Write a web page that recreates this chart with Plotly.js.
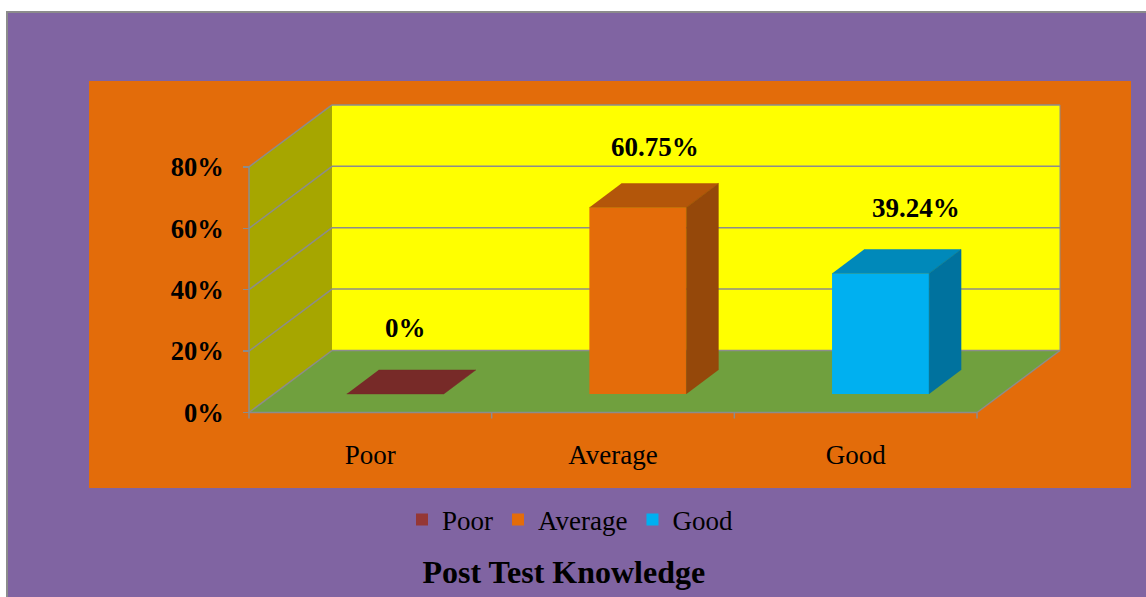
<!DOCTYPE html>
<html>
<head>
<meta charset="utf-8">
<script src="https://cdn.plot.ly/plotly-3.0.1.min.js"></script>
<style>
  html, body { margin: 0; padding: 0; background: #ffffff; }
  #frame { position: absolute; left: 6px; top: 11px; width: 1140px; height: 586px;
           box-sizing: border-box; background: #8064A2;
           border-left: 2px solid #8c8c8c; border-top: 2px solid #8c8c8c; }
  #chart { position: absolute; left: 0; top: 0; width: 1146px; height: 597px; }
</style>
</head>
<body>
<div id="frame"></div>
<div id="chart"></div>
<script>
// ---- data ----
const categories = ['Poor', 'Average', 'Good'];
const values = [0, 60.75, 39.24];
const yTickValues = [0, 20, 40, 60, 80];
const chartTitle = 'Post Test Knowledge';

// ---- styles ----
const frontColors = ['#953735', '#E46C0A', '#00B0F0'];
const topColors = ['#772A28', '#B3560A', '#0089BA'];
const sideColors = ['#5E201E', '#95480A', '#00729E'];
const labelXShift = [-6, 0, 19];
const labelYShift = [54, 49, 54];

const SERIF = '"Liberation Serif", "Times New Roman", serif';
const GRID = '#8C8C8C';

// 3D projection (in data units of the axes)
const DX = 0.342, DY = 20.2;      // full depth offset
const HALF = 0.2;                  // half bar width
const F0 = 0.3, F1 = 0.685;        // bar depth start / end (fraction)
const YMAX = yTickValues[yTickValues.length - 1];
const XL = -0.5, XR = categories.length - 0.5;

function path(pts) {
  return 'M' + pts.map(p => p[0] + ',' + p[1]).join('L') + 'Z';
}
function seg(x0, y0, x1, y1, extra) {
  return Object.assign({type: 'line', xref: 'x', yref: 'y', x0, y0, x1, y1,
    line: {color: GRID, width: 1.5}, layer: 'below'}, extra || {});
}

const shapes = [];
// left wall
shapes.push({type: 'path', xref: 'x', yref: 'y', layer: 'below',
  path: path([[XL, 0], [XL, YMAX], [XL + DX, YMAX + DY], [XL + DX, DY]]),
  fillcolor: '#A6A600', line: {width: 0}});
// back wall
shapes.push({type: 'path', xref: 'x', yref: 'y', layer: 'below',
  path: path([[XL + DX, DY], [XR + DX, DY], [XR + DX, YMAX + DY], [XL + DX, YMAX + DY]]),
  fillcolor: '#FFFF00', line: {width: 0}});
// floor
shapes.push({type: 'path', xref: 'x', yref: 'y', layer: 'below',
  path: path([[XL, 0], [XR, 0], [XR + DX, DY], [XL + DX, DY]]),
  fillcolor: '#70A03E', line: {width: 0}});
// gridlines on back and side walls
yTickValues.forEach(t => {
  shapes.push(seg(XL + DX, t + DY, XR + DX, t + DY));
  shapes.push(seg(XL, t, XL + DX, t + DY));
});
// edges
shapes.push(seg(XL, 0, XL, YMAX));
shapes.push(seg(XL, 0, XR, 0));
shapes.push(seg(XR, 0, XR + DX, DY));
shapes.push(seg(XR + DX, DY, XR + DX, YMAX + DY, {line: {color: GRID, width: 1}}));
// category boundary tick marks
for (let i = 0; i <= categories.length; i++) {
  shapes.push({type: 'line', xref: 'x', yref: 'y', ysizemode: 'pixel', yanchor: 0,
    x0: XL + i, x1: XL + i, y0: 0, y1: -6, line: {color: GRID, width: 1.5}, layer: 'above'});
}

const traces = [];
// front faces (real bars)
categories.forEach((c, i) => {
  traces.push({type: 'bar', name: c, x: [i + F0 * DX], y: [values[i]], base: [F0 * DY],
    width: [2 * HALF], marker: {color: frontColors[i], line: {width: 0}},
    hoverinfo: 'skip', showlegend: true});
});
// top and side faces
categories.forEach((c, i) => {
  const v = values[i];
  traces.push({type: 'scatter', mode: 'lines', fill: 'toself', showlegend: false, hoverinfo: 'skip',
    x: [i - HALF + F0 * DX, i + HALF + F0 * DX, i + HALF + F1 * DX, i - HALF + F1 * DX],
    y: [F0 * DY + v, F0 * DY + v, F1 * DY + v, F1 * DY + v],
    fillcolor: topColors[i], line: {color: topColors[i], width: 0.5}});
  if (v > 0) {
    traces.push({type: 'scatter', mode: 'lines', fill: 'toself', showlegend: false, hoverinfo: 'skip',
      x: [i + HALF + F0 * DX, i + HALF + F0 * DX, i + HALF + F1 * DX, i + HALF + F1 * DX],
      y: [F0 * DY, F0 * DY + v, F1 * DY + v, F1 * DY],
      fillcolor: sideColors[i], line: {color: sideColors[i], width: 0.5}});
  }
});

const annotations = categories.map((c, i) => ({
  xref: 'x', yref: 'y', x: i + 0.5 * DX, y: values[i] + 0.49 * DY,
  xshift: labelXShift[i], yshift: labelYShift[i],
  text: values[i] + '%', showarrow: false, xanchor: 'center', yanchor: 'middle',
  font: {family: SERIF, size: 27, color: '#000000', weight: 'bold'}
}));

const W = 1146, H = 597;
const L = 89, R = 15, T = 81, B = 109;
const plotW = W - L - R, plotH = H - T - B;
const xFront0 = 249, yFront0 = 412.5;       // pixel of (XL, 0)
const pxPerCat = 242.67, pxPerPct = 3.07;
const xRange = [XL - (xFront0 - L) / pxPerCat, XL + (W - R - xFront0) / pxPerCat];
const yRange = [-(H - B - yFront0) / pxPerPct, (yFront0 - T) / pxPerPct];

const layout = {
  width: W, height: H,
  margin: {l: L, r: R, t: T, b: B, pad: 0},
  paper_bgcolor: 'rgba(0,0,0,0)',
  plot_bgcolor: '#E36C0A',
  barmode: 'overlay',
  showlegend: true,
  title: {text: '<b>' + chartTitle + '</b>', xref: 'container', yref: 'container',
    x: 0.492, y: 1 - 572 / H, xanchor: 'center', yanchor: 'middle',
    font: {family: SERIF, size: 32, color: '#000000'}},
  xaxis: {range: xRange, anchor: 'free', position: (H - B - yFront0) / plotH,
    tickvals: categories.map((c, i) => i), ticktext: categories,
    ticks: '', showgrid: false, zeroline: false, showline: false,
    ticklabelstandoff: 23,
    tickfont: {family: SERIF, size: 27, color: '#000000'}},
  yaxis: {range: yRange, anchor: 'free', position: (xFront0 - L) / plotW,
    tickvals: yTickValues, ticktext: yTickValues.map(v => v + '%'),
    ticks: 'outside', ticklen: 6, tickwidth: 1.5, tickcolor: GRID,
    showgrid: false, zeroline: false, showline: false,
    ticklabelstandoff: 14,
    tickfont: {family: SERIF, size: 26.5, color: '#000000', weight: 'bold'}},
  legend: {orientation: 'h', x: (570 - L) / plotW, xanchor: 'center',
    y: -(520 - (H - B)) / plotH, yanchor: 'middle', bgcolor: 'rgba(0,0,0,0)',
    font: {family: SERIF, size: 27, color: '#000000'}, itemwidth: 30},
  shapes: shapes,
  annotations: annotations
};

Plotly.newPlot('chart', traces, layout, {displayModeBar: false, staticPlot: true});
</script>
</body>
</html>
